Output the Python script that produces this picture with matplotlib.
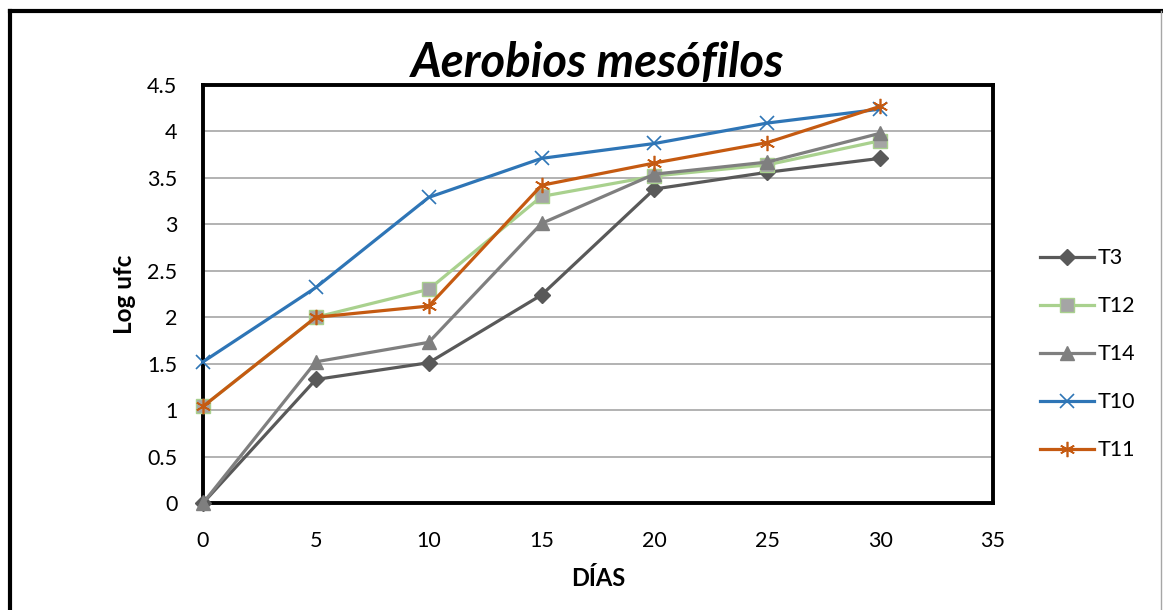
import matplotlib
matplotlib.use("Agg")
import matplotlib.pyplot as plt
from matplotlib.lines import Line2D

plt.rcParams['font.family'] = ['Lato', 'DejaVu Sans']

dias = [0, 5, 10, 15, 20, 25, 30]

t3 = [0.0, 1.33, 1.51, 2.24, 3.38, 3.56, 3.71]
t12 = [1.04, 2.0, 2.30, 3.30, 3.52, 3.64, 3.90]
t14 = [0.0, 1.52, 1.73, 3.01, 3.54, 3.67, 3.98]
t10 = [1.52, 2.32, 3.29, 3.71, 3.87, 4.09, 4.24]
t11 = [1.04, 2.0, 2.12, 3.42, 3.66, 3.88, 4.27]

x_ticks = [0, 5, 10, 15, 20, 25, 30, 35]
y_ticks = [0, 0.5, 1, 1.5, 2, 2.5, 3, 3.5, 4, 4.5]
y_labels = ['0', '0.5', '1', '1.5', '2', '2.5', '3', '3.5', '4', '4.5']

fig = plt.figure(figsize=(11.63, 6.10), dpi=100)
ax = fig.add_axes([0.1746, 0.1754, 0.6792, 0.6853])

series = [
    ('T3', t3, dict(color='#595959', marker='D', markersize=8.5,
                    markerfacecolor='#595959', markeredgecolor='#595959')),
    ('T12', t12, dict(color='#A9D18E', marker='s', markersize=9.5,
                      markerfacecolor='#A5A5A5', markeredgecolor='#A9D18E')),
    ('T14', t14, dict(color='#7F7F7F', marker='^', markersize=10.5,
                      markerfacecolor='#7F7F7F', markeredgecolor='#7F7F7F')),
    ('T10', t10, dict(color='#2E75B6', marker='x', markersize=10,
                      markeredgewidth=1.2)),
    ('T11', t11, dict(color='#C55A11', marker=(6, 2, 0), markersize=11,
                      markeredgewidth=1.2)),
]
for name, vals, style in series:
    ax.plot(dias, vals, label=name, linewidth=2.3, clip_on=False, zorder=3, **style)

ax.set_xlim(0, 35)
ax.set_ylim(0, 4.5)
ax.set_xticks(x_ticks)
ax.set_yticks(y_ticks)
ax.set_xticklabels([str(v) for v in x_ticks])
ax.set_yticklabels(y_labels)
ax.tick_params(length=0, labelsize=15.5)
ax.tick_params(axis='y', pad=18.5)
ax.tick_params(axis='x', pad=20)
ax.grid(axis='y', color='#A6A6A6', linewidth=1.2)
ax.set_axisbelow(True)
for sp in ax.spines.values():
    sp.set_color('black')
    sp.set_linewidth(2.8)

ax.set_title('Aerobios mesófilos', fontsize=34, fontweight='bold',
             fontstyle='italic', pad=6)
ax.set_xlabel('DÍAS', fontsize=17, fontweight='bold', labelpad=12)
ax.set_ylabel('Log ufc', fontsize=17.5, fontweight='bold', labelpad=8)

ax.legend(loc='center left', bbox_to_anchor=(1.035, 0.356), frameon=False,
          fontsize=15.5, handlelength=2.5, labelspacing=1.3, handletextpad=0.2)

# outer border of the chart area
fig.add_artist(Line2D([0.0086, 0.0086], [0.0, 0.9820], color='black',
                      linewidth=3, transform=fig.transFigure))
fig.add_artist(Line2D([0.0086, 1.0], [0.9820, 0.9820], color='black',
                      linewidth=3, transform=fig.transFigure))
fig.add_artist(Line2D([0.9985, 0.9985], [0.0, 0.9820], color='#A6A6A6',
                      linewidth=1, transform=fig.transFigure))

fig.savefig('out.png', dpi=100)
